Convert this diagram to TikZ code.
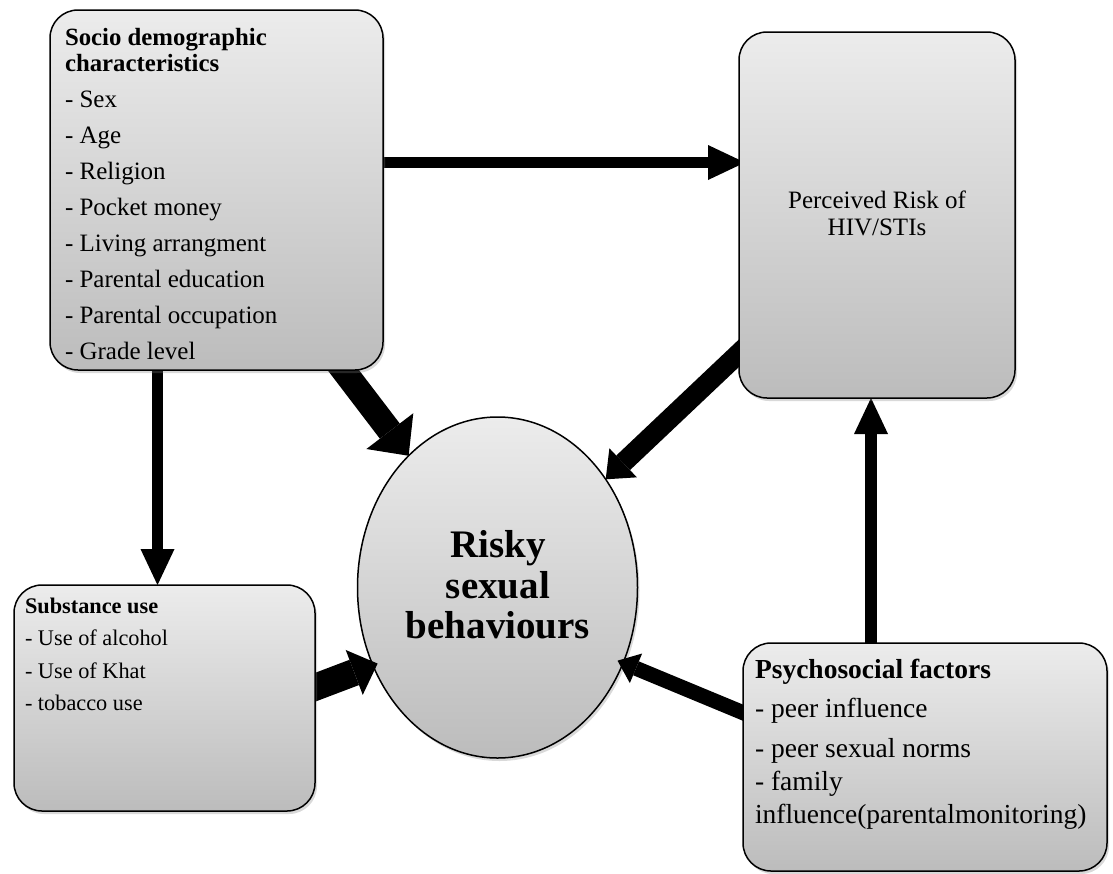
\documentclass[tikz,border=0pt]{standalone}
\usepackage{fontspec}
\setmainfont{Liberation Serif}
\usetikzlibrary{arrows.meta,shapes.geometric,shadows}
\pgfdeclarelayer{front}
\pgfsetlayers{main,front}
\definecolor{gtop}{RGB}{236,236,236}
\definecolor{gbot}{RGB}{188,188,188}
\begin{document}
\begin{tikzpicture}[x=1pt,y=-1pt,
  box/.style={draw=black, line width=1.5pt, rounded corners=28pt, top color=gtop, bottom color=gbot,
    inner sep=0pt, outer sep=0pt,
    drop shadow={shadow xshift=2pt,shadow yshift=-3pt,opacity=0.3}},
  oval/.style={ellipse, draw=black, line width=1.5pt, top color=gtop, bottom color=gbot,
    inner sep=0pt, outer sep=0pt,
    drop shadow={shadow xshift=2pt,shadow yshift=-3pt,opacity=0.3}},
  lbl/.style={inner sep=0pt, outer sep=0pt, anchor=base west, text=black},
  clbl/.style={inner sep=0pt, outer sep=0pt, anchor=base, text=black},
  fsd/.style={font=\fontsize{25}{30}\selectfont},
  fsdh/.style={font=\fontsize{24.8}{30}\selectfont\bfseries},
  fsu/.style={font=\fontsize{22.3}{27}\selectfont},
  fsuh/.style={font=\fontsize{22.3}{27}\selectfont\bfseries},
  fps/.style={font=\fontsize{27.5}{33}\selectfont},
  fpsh/.style={font=\fontsize{27.5}{33}\selectfont\bfseries},
  frisk/.style={font=\fontsize{39}{41}\selectfont\bfseries},
  conn/.style={draw=black, line width=#1},
]
\useasboundingbox (0,0) rectangle (1113,873);

% central ellipse
\node[oval, minimum width=280pt, minimum height=341pt] (risk) at (497.5,587.5) {};

\begin{pgfonlayer}{front}
\node[box, minimum width=333pt, minimum height=360pt] (socio) at (216.5,190) {};
\node[box, minimum width=276pt, minimum height=366pt] (perc) at (877,215) {};
\node[box, minimum width=301pt, minimum height=226pt] (subst) at (164.5,698) {};
\node[box, minimum width=364pt, minimum height=228pt] (psy) at (925,757) {};

% socio text
\node[lbl, fsdh] (sdh1) at (65,45) {Socio demographic};
\node[lbl, fsdh] (sdh2) at (65,71) {characteristics};
\foreach \t [count=\i] in {- Sex,- Age,- Religion,- Pocket money,- Living arrangment,- Parental education,- Parental occupation,- Grade level}
  \node[lbl, fsd] (sd\i) at (65,{71+36*\i}) {\t};

% perceived text
\node[clbl, fsd] (pr1) at (877,208) {Perceived Risk of};
\node[clbl, fsd] (pr2) at (877,235) {HIV/STIs};

% substance text
\node[lbl, fsuh] (suh) at (25,613) {Substance use};
\node[lbl, fsu] (su1) at (25,645) {- Use of alcohol};
\node[lbl, fsu] (su2) at (25,678) {- Use of Khat};
\node[lbl, fsu] (su3) at (25,710) {- tobacco use};

% psychosocial text
\node[lbl, fpsh] (psh) at (755,678) {Psychosocial factors};
\node[lbl, fps] (ps1) at (755,717) {- peer influence};
\node[lbl, fps] (ps2) at (755,757) {- peer sexual norms};
\node[lbl, fps] (ps3) at (755,790) {- family};
\node[lbl, fps] (ps4) at (755,823) {influence(parentalmonitoring)};

% risk text
\node[clbl, frisk] (rk1) at (498,557) {Risky};
\node[clbl, frisk] (rk2) at (498,598) {sexual};
\node[clbl, frisk] (rk3) at (498,638) {behaviours};
\end{pgfonlayer}

% helper coordinates
\coordinate (h1) at (0,162.5);
\coordinate (v1) at (157.5,0);
\coordinate (v2) at (871,0);
\coordinate (s4) at (331,354);
\coordinate (s5) at (755,338);
\coordinate (s6) at (296,694.5);
\coordinate (s7) at (761.6,720.4);

% straight thin arrows
\draw[conn=11pt, -{Triangle[length=37pt,width=35pt,line width=0pt]}, shorten >=-6pt]
  (socio.east |- h1) -- (perc.west |- h1);
\draw[conn=11pt, -{Triangle[length=36pt,width=34pt,line width=0pt]}]
  (socio.south -| v1) -- (subst.north -| v1);
\draw[conn=12pt, -{Triangle[length=36pt,width=34pt,line width=0pt]}]
  (psy.north -| v2) -- (perc.south -| v2);

% thick arrows into the ellipse
\draw[conn=25pt, -{Triangle[length=31pt,width=59pt,line width=0pt]}]
  (s4) -- (risk.124);
\draw[conn=20pt, -{Triangle[length=24pt,width=40pt,line width=0pt]}]
  (s5) -- (risk.45);
\draw[conn=27pt, -{Triangle[length=25pt,width=48pt,line width=0pt]}, shorten >=-5pt]
  (s6) -- (risk.212);
\draw[conn=15pt, -{Triangle[length=20pt,width=32pt,line width=0pt]}, shorten >=-6pt]
  (s7) -- (risk.329);
\end{tikzpicture}
\end{document}
